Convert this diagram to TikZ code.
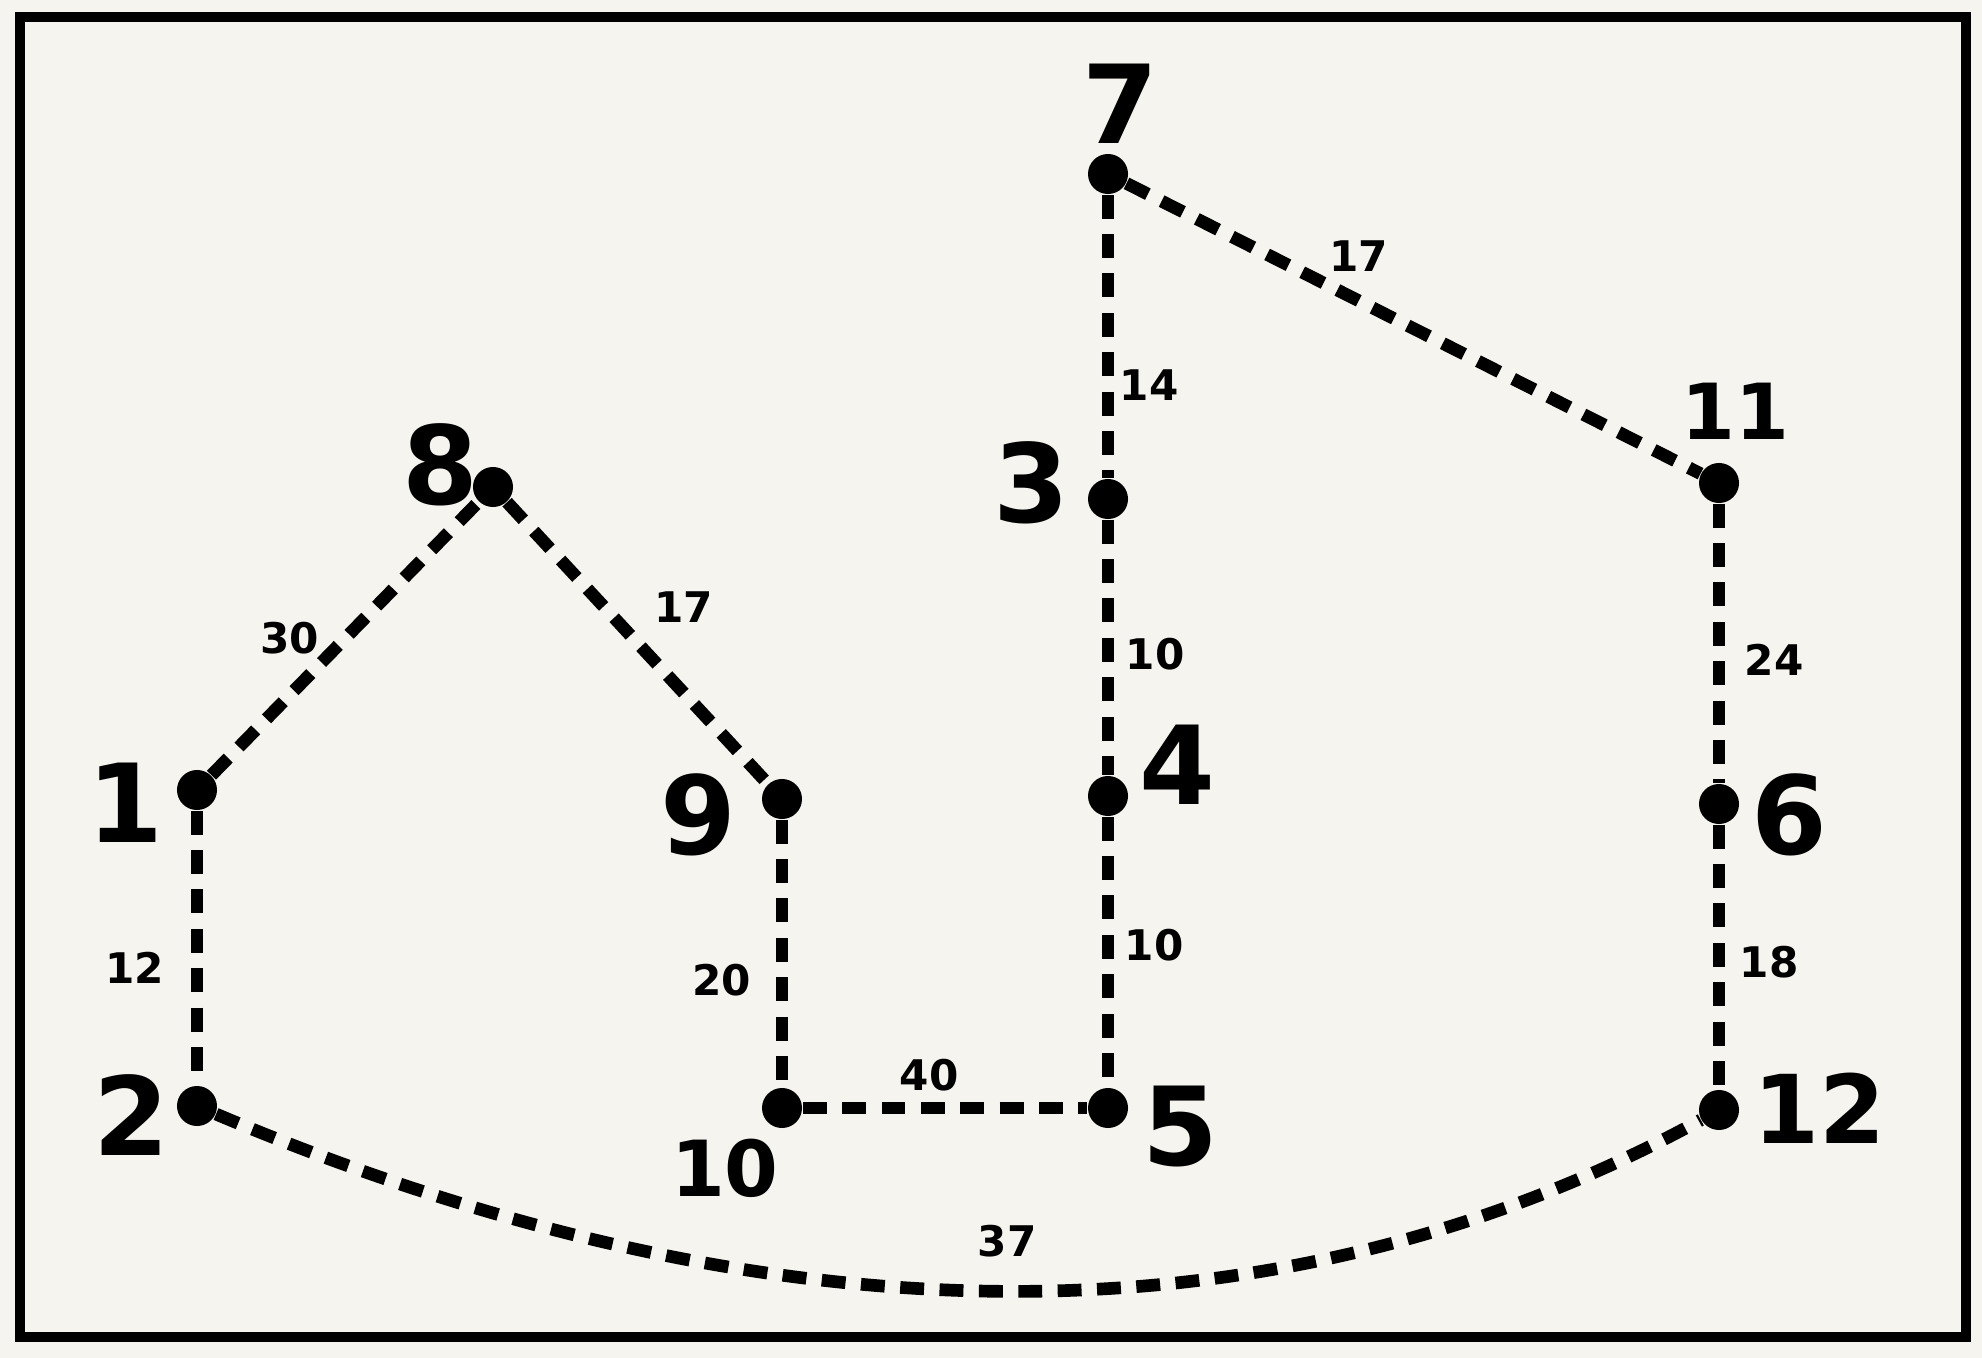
\documentclass[tikz,border=0pt]{standalone}
\usepackage{fontspec}
\setmainfont{DejaVu Sans}
\usetikzlibrary{positioning}
\definecolor{paper}{HTML}{F6F4EF}
\tikzstyle{dot} = [circle, fill=black, inner sep=0pt, minimum size=0.4cm]
\tikzstyle{num} = [font=\fontsize{31}{31}\selectfont\bfseries, inner sep=0pt]
\tikzstyle{midnum} = [font=\fontsize{27}{27}\selectfont\bfseries, inner sep=0pt]
\tikzstyle{smallnum} = [font=\fontsize{22}{22}\selectfont\bfseries, inner sep=0pt]
\tikzstyle{len} = [font=\fontsize{12}{12}\selectfont\bfseries, inner sep=0pt]
\tikzstyle{trail} = [line width=3.6pt, dash pattern=on 6.8pt off 4.4pt]

\begin{document}
\begin{tikzpicture}[x=0.01cm, y=-0.01cm]
              \fill[paper] (0,0) rectangle (1982,1358);
              \draw[line width=3pt] (20,17) rectangle (1966,1337);

              % the dots
              \node (p1) [dot] at (197,790) {};
              \node (p2) [dot] at (197,1106) {};
              \node (p3) [dot] at (1108,499) {};
              \node (p4) [dot] at (1108,796) {};
              \node (p5) [dot] at (1108,1108) {};
              \node (p6) [dot] at (1719,804) {};
              \node (p7) [dot] at (1108,174) {};
              \node (p8) [dot] at (493,487) {};
              \node (p9) [dot] at (782,799) {};
              \node (p10) [dot] at (782,1108) {};
              \node (p11) [dot] at (1719,483) {};
              \node (p12) [dot] at (1719,1110) {};

              % the numbers beside them
              \node (n1) [num, xshift=-.72cm, yshift=-.13cm] at (p1) {1};
              \node (n2) [num, xshift=-.66cm, yshift=-.09cm] at (p2) {2};
              \node (n3) [num, xshift=-.77cm, yshift=.16cm] at (p3) {3};
              \node (n4) [num, xshift=.69cm, yshift=.31cm] at (p4) {4};
              \node (n5) [num, xshift=.72cm, yshift=-.19cm] at (p5) {5};
              \node (n6) [num, xshift=.70cm, yshift=-.11cm] at (p6) {6};
              \node (n7) [num, xshift=.12cm, yshift=.70cm] at (p7) {7};
              \node (n8) [num, xshift=-.53cm, yshift=.22cm] at (p8) {8};
              \node (n9) [num, xshift=-.84cm, yshift=-.16cm] at (p9) {9};
              \node (n10) [smallnum, xshift=-.57cm, yshift=-.6cm] at (p10) {10};
              \node (n11) [smallnum, xshift=.16cm, yshift=.72cm] at (p11) {11};
              \node (n12) [midnum, xshift=1.0cm, yshift=.02cm] at (p12) {12};

              \draw [trail] (p1) -- node[len, xshift=-.55cm] {30} (p8);
              \draw [trail] (p8) -- node[len, xshift=.46cm, yshift=.36cm] {17} (p9);
              \draw [trail] (p1) -- node[len, xshift=-.62cm, yshift=-.2cm] {12} (p2);
              \draw [trail] (p9) -- node[len, xshift=-.6cm, yshift=-.27cm] {20} (p10);
              \draw [trail] (p10) -- node[len, xshift=-.16cm, yshift=.33cm] {40} (p5);
              \draw [trail] (p7) -- node[len, xshift=.41cm, yshift=-.49cm] {14} (p3);
              \draw [trail] (p3) -- node[len, xshift=.47cm, yshift=-.07cm] {10} (p4);
              \draw [trail] (p4) -- node[len, xshift=.46cm, yshift=.07cm] {10} (p5);
              \draw [trail] (p7) -- node[len, xshift=-.55cm, yshift=.72cm] {17} (p11);
              \draw [trail] (p11) -- node[len, xshift=.55cm, yshift=-.16cm] {24} (p6);
              \draw [trail] (p6) -- node[len, xshift=.5cm, yshift=-.05cm] {18} (p12);
              \draw [trail] (p2) .. controls (769,1348) and (1278,1351) .. node[len, yshift=.5cm] {37} (p12);
            \end{tikzpicture}
\end{document}
